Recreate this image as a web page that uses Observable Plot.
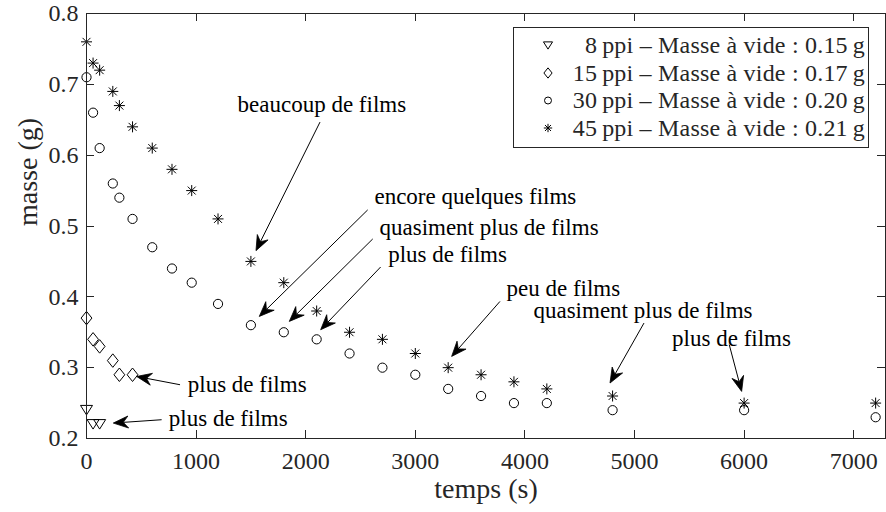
<!DOCTYPE html>
<html><head><meta charset="utf-8">
<script src="https://cdn.jsdelivr.net/npm/d3@7"></script>
<script src="https://cdn.jsdelivr.net/npm/@observablehq/plot@0.6"></script>
<style>
body{margin:0;background:#fff}
svg{display:block}
</style>
</head><body><div id="chart"></div>
<script>
// ---- data ----
const time8 = [0, 60, 120];
const mass8 = [0.24, 0.22, 0.22];
const time15 = [0, 60, 120, 240, 300, 420];
const mass15 = [0.37, 0.34, 0.33, 0.31, 0.29, 0.29];
const time30 = [0, 60, 120, 240, 300, 420, 600, 780, 960, 1200, 1500, 1800, 2100, 2400, 2700, 3000, 3300, 3600, 3900, 4200, 4800, 6000, 7200];
const mass30 = [0.71, 0.66, 0.61, 0.56, 0.54, 0.51, 0.47, 0.44, 0.42, 0.39, 0.36, 0.35, 0.34, 0.32, 0.30, 0.29, 0.27, 0.26, 0.25, 0.25, 0.24, 0.24, 0.23];
const time45 = [0, 60, 120, 240, 300, 420, 600, 780, 960, 1200, 1500, 1800, 2100, 2400, 2700, 3000, 3300, 3600, 3900, 4200, 4800, 6000, 7200];
const mass45 = [0.76, 0.73, 0.72, 0.69, 0.67, 0.64, 0.61, 0.58, 0.55, 0.51, 0.45, 0.42, 0.38, 0.35, 0.34, 0.32, 0.30, 0.29, 0.28, 0.27, 0.26, 0.25, 0.25];

const legendLabels = [
  "8\u2009ppi \u2013 Masse à vide : 0.15\u2009g",
  "15\u2009ppi \u2013 Masse à vide : 0.17\u2009g",
  "30\u2009ppi \u2013 Masse à vide : 0.20\u2009g",
  "45\u2009ppi \u2013 Masse à vide : 0.21\u2009g"
];

// annotations (text anchor point and arrow, in data units)
const annText = ["beaucoup de films", "encore quelques films", "quasiment plus de films", "plus de films",
  "peu de films", "quasiment plus de films", "plus de films", "plus de films", "plus de films"];
const annT = [1378, 2627, 2673, 2752, 3832, 4078, 5343, 924, 751];
const annM = [0.671, 0.541, 0.498, 0.460, 0.412, 0.381, 0.341, 0.2766, 0.2282];
const arrT0 = [2135, 2570, 2616, 2688, 3777, 5091, 5869, 858, 690];
const arrM0 = [0.646, 0.522, 0.481, 0.4414, 0.3928, 0.3623, 0.3317, 0.2752, 0.2258];
const arrT1 = [1551, 1581, 1855, 2141, 3336, 4781, 5982, 462, 249];
const arrM1 = [0.4645, 0.3716, 0.3646, 0.3529, 0.3152, 0.2776, 0.2658, 0.2869, 0.2211];

const xTicks = [0, 1000, 2000, 3000, 4000, 5000, 6000, 7000];
const yTicks = [0.2, 0.3, 0.4, 0.5, 0.6, 0.7, 0.8];

const FONT = "'Liberation Serif', 'DejaVu Serif', serif";

// ---- custom symbols ----
const triDown = {draw(ctx, size) { const r = Math.sqrt(size / Math.PI);
  ctx.moveTo(-1.2 * r, -0.95 * r); ctx.lineTo(1.2 * r, -0.95 * r); ctx.lineTo(0, 0.95 * r); ctx.closePath(); }};
const diamondSym = {draw(ctx, size) { const r = Math.sqrt(size / Math.PI);
  ctx.moveTo(0, -1.35 * r); ctx.lineTo(1.08 * r, 0); ctx.lineTo(0, 1.35 * r); ctx.lineTo(-1.08 * r, 0); ctx.closePath(); }};
const circleSym = {draw(ctx, size) { const r = Math.sqrt(size / Math.PI) * 0.92;
  ctx.moveTo(r, 0); ctx.arc(0, 0, r, 0, 2 * Math.PI); ctx.closePath(); }};
const starSym = {draw(ctx, size) { const r = Math.sqrt(size / Math.PI) * 1.1; const d = r * 0.72;
  ctx.moveTo(-r, 0); ctx.lineTo(r, 0); ctx.moveTo(0, -r); ctx.lineTo(0, r);
  ctx.moveTo(-d, -d); ctx.lineTo(d, d); ctx.moveTo(-d, d); ctx.lineTo(d, -d); }};
const legendSymbols = [triDown, diamondSym, circleSym, starSym];

const toRows = (ts, ms) => ts.map((t, i) => ({t, m: ms[i]}));
const ink = "#262626";

function ticksMark(index, scales, values, dim) {
  const g = d3.create("svg:g").attr("stroke", ink).attr("stroke-width", 1);
  const L = dim.marginLeft, R = dim.width - dim.marginRight, T = dim.marginTop, B = dim.height - dim.marginBottom;
  const len = 8;
  for (const v of xTicks) { const x = Math.round(scales.x(v)) + 0.5;
    g.append("line").attr("x1", x).attr("x2", x).attr("y1", B).attr("y2", B - len);
    g.append("line").attr("x1", x).attr("x2", x).attr("y1", T).attr("y2", T + len); }
  for (const v of yTicks) { const y = Math.round(scales.y(v)) + 0.5;
    g.append("line").attr("x1", L).attr("x2", L + len).attr("y1", y).attr("y2", y);
    g.append("line").attr("x1", R).attr("x2", R - len).attr("y1", y).attr("y2", y); }
  return g.node();
}

function arrowsMark(index, scales) {
  const g = d3.create("svg:g");
  arrT0.forEach((_, i) => {
    const x0 = scales.x(arrT0[i]), y0 = scales.y(arrM0[i]);
    const x1 = scales.x(arrT1[i]), y1 = scales.y(arrM1[i]);
    const dx = x1 - x0, dy = y1 - y0, len = Math.hypot(dx, dy);
    const ux = dx / len, uy = dy / len, nx = -uy, ny = ux;
    const HL = 15, HW = 6, notch = 10;
    const bx = x1 - ux * HL, by = y1 - uy * HL;
    const mx = x1 - ux * notch, my = y1 - uy * notch;
    g.append("line").attr("x1", x0).attr("y1", y0).attr("x2", mx).attr("y2", my)
      .attr("stroke", "black").attr("stroke-width", 1);
    g.append("path").attr("d",
      `M${x1},${y1}L${bx + nx * HW},${by + ny * HW}L${mx},${my}L${bx - nx * HW},${by - ny * HW}Z`)
      .attr("fill", "black").attr("stroke", "black").attr("stroke-width", 0.8).attr("stroke-linejoin", "miter");
  });
  return g.node();
}

function legendMark(index, scales, values, dim) {
  const R = dim.width - dim.marginRight, T = dim.marginTop;
  const bx1 = R - 17, bx0 = bx1 - 355, by0 = T + 14, bh = 120;
  const g = d3.create("svg:g");
  g.append("rect").attr("x", bx0 + 0.5).attr("y", by0 + 0.5).attr("width", bx1 - bx0).attr("height", bh)
    .attr("fill", "white").attr("stroke", ink).attr("stroke-width", 1);
  legendLabels.forEach((lab, i) => {
    const cy = by0 + 18.5 + i * 27.5;
    const sym = d3.symbol(legendSymbols[i], Math.PI * 3.8 * 3.8)();
    g.append("path").attr("d", sym).attr("transform", `translate(${bx0 + 35},${cy})`)
      .attr("fill", "none").attr("stroke", "black").attr("stroke-width", 1);
    g.append("text").attr("x", bx1 - 3).attr("y", cy).attr("dy", "0.33em")
      .attr("text-anchor", "end").attr("font-size", 24).attr("letter-spacing", 0.2).attr("font-family", FONT)
      .attr("fill", ink).text(lab);
  });
  return g.node();
}

const dotOpts = {x: "t", y: "m", r: 5, fill: "none", stroke: "black", strokeWidth: 1};

const chart = Plot.plot({
  width: 886, height: 512,
  marginLeft: 86, marginRight: 1, marginTop: 13, marginBottom: 74,
  x: {domain: [0, 7290]},
  y: {domain: [0.2, 0.8]},
  marks: [
    Plot.axisX(xTicks, {tickSize: 0, tickPadding: 13, fontSize: 24, fontFamily: FONT, label: null, tickFormat: d => String(d)}),
    Plot.axisY(yTicks, {tickSize: 0, tickPadding: 8, fontSize: 24, fontFamily: FONT, label: null, tickFormat: d => d.toFixed(1)}),
    Plot.text(["temps (s)"], {frameAnchor: "bottom", dy: 59, fontSize: 28, fontFamily: FONT, fill: ink, letterSpacing: 0.8}),
    Plot.text(["masse (g)"], {frameAnchor: "left", rotate: -90, dx: -58.5, fontSize: 28, fontFamily: FONT, fill: ink, letterSpacing: 0.8}),
    Plot.dot(toRows(time8, mass8), {...dotOpts, symbol: triDown}),
    Plot.dot(toRows(time15, mass15), {...dotOpts, symbol: diamondSym}),
    Plot.dot(toRows(time30, mass30), {...dotOpts, symbol: circleSym}),
    Plot.dot(toRows(time45, mass45), {...dotOpts, symbol: starSym}),
    arrowsMark,
    Plot.text(annText, {x: (d, i) => annT[i], y: (d, i) => annM[i], text: d => d,
      textAnchor: "start", fontSize: 23, fontFamily: FONT, fill: "black"}),
    legendMark,
    ticksMark,
    Plot.frame({stroke: ink, strokeWidth: 1})
  ]
});
chart.style.background = "white";
chart.style.color = ink;
document.getElementById("chart").appendChild(chart);
</script>
</body></html>
